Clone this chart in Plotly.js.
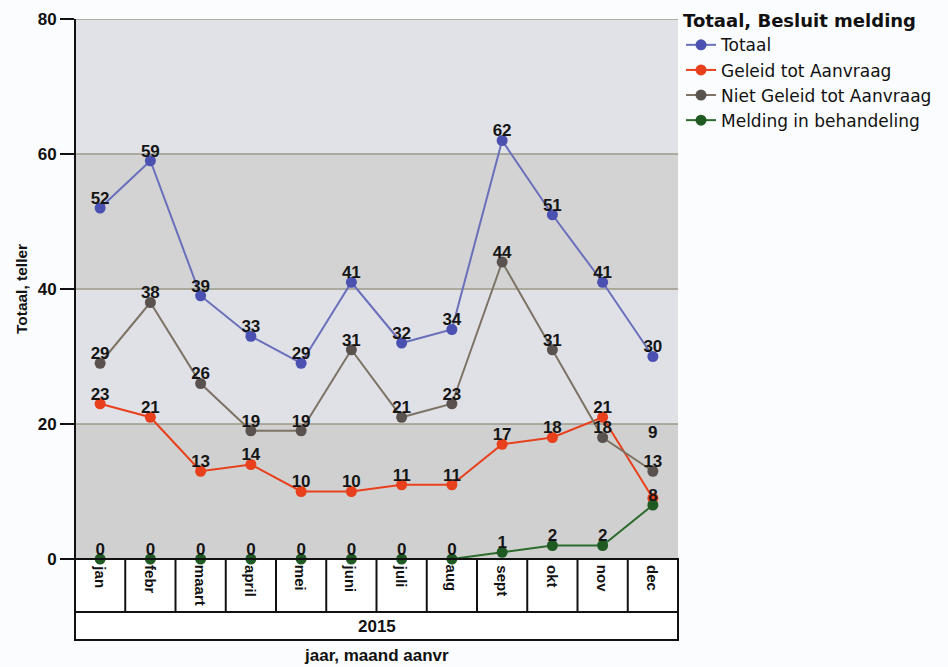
<!DOCTYPE html>
<html>
<head>
<meta charset="utf-8">
<script src="https://cdn.plot.ly/plotly-3.0.1.min.js"></script>
<style>html,body{margin:0;padding:0;background:#fbfcfd;}#chart{width:948px;height:667px;}</style>
</head>
<body>
<div id="chart"></div>
<script>
var months = ['jan','febr','maart','april','mei','juni','juli','aug','sept','okt','nov','dec'];
var yearLabel = '2015';
var totaal = [52,59,39,33,29,41,32,34,62,51,41,30];
var geleid = [23,21,13,14,10,10,11,11,17,18,21,9];
var nietGeleid = [29,38,26,19,19,31,21,23,44,31,18,13];
var inBehandeling = [0,0,0,0,0,0,0,0,1,2,2,8];
var seriesNames = ['Totaal','Geleid tot Aanvraag','Niet Geleid tot Aanvraag','Melding in behandeling'];

var FONT = 'Liberation Sans, Arial, sans-serif';
var WIDE = 'DejaVu Sans, Verdana, sans-serif';
var xs = months.map(function(m,i){return i;});
function mk(y, name, lineCol, markCol, g){
  return {
    x: xs, y: y, name: name, legendgroup: g, type: 'scatter', mode: 'lines+markers',
    line: {color: lineCol, width: 2},
    marker: {color: markCol, size: 11},
    cliponaxis: false
  };
}
function lbl(y, g, textArr){
  return {
    x: xs, y: y, type: 'scatter', mode: 'text', showlegend: false, hoverinfo: 'skip', legendgroup: g,
    text: textArr || y.map(String), textposition: 'top center',
    textfont: {family: FONT, size: 17, color: '#151515', weight: 'bold'},
    cliponaxis: false
  };
}
var geleidText = geleid.map(String); geleidText[11] = '';
var traces = [
  mk(totaal, seriesNames[0], '#6a6fbb', '#4b51b0', 'g0'),
  mk(geleid, seriesNames[1], '#e8401c', '#e8401c', 'g1'),
  mk(nietGeleid, seriesNames[2], '#7d7364', '#5a524e', 'g2'),
  mk(inBehandeling, seriesNames[3], '#2d6a2d', '#1f5a23', 'g3'),
  lbl(totaal, 'g0'), lbl(geleid, 'g1', geleidText), lbl(nietGeleid, 'g2'), lbl(inBehandeling, 'g3')
];

var shapes = [];
var bands = [[0,20,'#d0d0d0'],[20,40,'#e0e1e7'],[40,60,'#d3d3d4'],[60,80,'#e0e2e8']];
bands.forEach(function(b){
  shapes.push({type:'rect', xref:'paper', yref:'y', x0:0, x1:1, y0:b[0], y1:b[1], fillcolor:b[2], line:{width:0}, layer:'below'});
});
[20,40,60,80].forEach(function(v){
  shapes.push({type:'line', xref:'paper', yref:'y', x0:0, x1:1, y0:v, y1:v, line:{color:'#9d9a88', width:1.3}, layer:'below'});
});
var plotH = 540;
var yMonthBottom = -53/plotH, yYearBottom = -81/plotH;
shapes.push({type:'rect', xref:'paper', yref:'paper', x0:0, x1:1, y0:yYearBottom, y1:0, fillcolor:'#ffffff', line:{color:'#111', width:2}, layer:'below'});
shapes.push({type:'line', xref:'paper', yref:'paper', x0:0, x1:1, y0:yMonthBottom, y1:yMonthBottom, line:{color:'#111', width:2}});
shapes.push({type:'line', xref:'paper', yref:'paper', x0:-0.024, x1:1, y0:0, y1:0, line:{color:'#111', width:2}});
shapes.push({type:'line', xref:'paper', yref:'paper', x0:0, x1:0, y0:yYearBottom, y1:1, line:{color:'#111', width:2}});
for (var i=1;i<months.length;i++){
  shapes.push({type:'line', xref:'x', yref:'paper', x0:i-0.5, x1:i-0.5, y0:yMonthBottom, y1:0, line:{color:'#111', width:2}});
}

var annotations = months.map(function(m,i){
  return {x:i, xref:'x', y:-4/plotH, yref:'paper', text:'<b>'+m+'</b>', showarrow:false, textangle:90,
    xanchor:'center', yanchor:'top', font:{family:FONT, size:15, color:'#111'}};
});
annotations.push({x:0.5, xref:'paper', y:(yMonthBottom+yYearBottom)/2, yref:'paper', text:'<b>'+yearLabel+'</b>', showarrow:false,
  xanchor:'center', yanchor:'middle', font:{family:FONT, size:17, color:'#111'}});
annotations.push({x:11, xref:'x', y:geleid[11], yref:'y', yshift:54, text:'<b>'+String(geleid[11])+'</b>', showarrow:false,
  xanchor:'center', yanchor:'bottom', font:{family:FONT, size:17, color:'#151515'}});
annotations.push({x:0.5, xref:'paper', y:-96/plotH, yref:'paper', text:'<b>jaar, maand aanvr</b>', showarrow:false,
  xanchor:'center', yanchor:'middle', font:{family:FONT, size:17, color:'#111'}});

var layout = {
  width: 948, height: 667,
  margin: {l:75, r:270, t:19, b:108, autoexpand:false},
  paper_bgcolor: '#fbfcfd', plot_bgcolor: 'rgba(0,0,0,0)',
  font: {family:FONT, color:'#111'},
  showlegend: true,
  legend: {x:1.005, xanchor:'left', y:1.028, yanchor:'top', bgcolor:'rgba(0,0,0,0)', traceorder:'grouped',
    title:{text:'<b>Totaal, Besluit melding</b>', font:{family:WIDE, size:18, color:'#111'}},
    font:{family:WIDE, size:17, color:'#111'}, tracegroupgap:0, itemwidth:30},
  xaxis: {range:[-0.5,11.5], showticklabels:false, showgrid:false, zeroline:false, showline:false, ticks:'', fixedrange:true},
  yaxis: {range:[0,80], tickvals:[0,20,40,60,80], ticks:'outside', ticklen:14, tickwidth:2, tickcolor:'#111',
    showgrid:false, zeroline:false, showline:false,
    tickfont:{size:17, color:'#111', weight:'bold'},
    title:{text:'<b>Totaal, teller</b>', font:{size:15.5, color:'#111'}, standoff:6}},
  shapes: shapes,
  annotations: annotations
};
Plotly.newPlot('chart', traces, layout, {displayModeBar:false, staticPlot:true});
</script>
</body>
</html>
